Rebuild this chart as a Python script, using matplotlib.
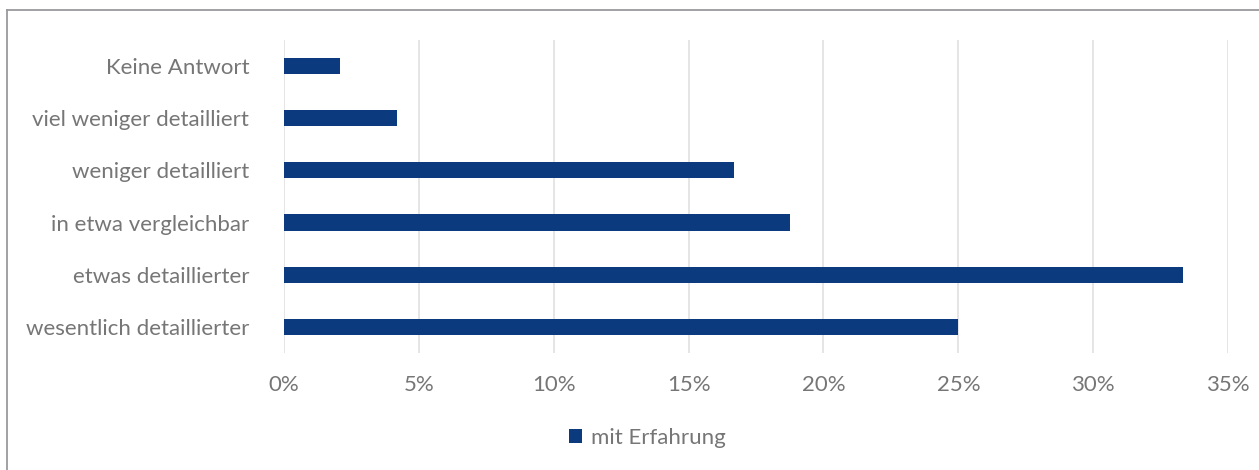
import matplotlib.pyplot as plt
from matplotlib.ticker import PercentFormatter
from matplotlib.lines import Line2D

plt.rcParams['font.family'] = ['Lato', 'DejaVu Sans']

categories = ['wesentlich detaillierter', 'etwas detaillierter', 'in etwa vergleichbar',
              'weniger detailliert', 'viel weniger detailliert', 'Keine Antwort']
share = [25.0, 33.33, 18.75, 16.67, 4.17, 2.08]
series_name = 'mit Erfahrung'
xticks = [0, 5, 10, 15, 20, 25, 30, 35]

bar_color = '#0B3A7E'
text_color = '#767676'

fig = plt.figure(figsize=(12.59, 4.70), dpi=100)
ax = fig.add_axes([0.2256, 0.249, 0.7498, 0.666])

ypos = range(len(categories))
ax.barh(ypos, [v / 100 for v in share], height=0.31, color=bar_color,
        label=series_name, zorder=3)

ax.set_xlim(0, 0.35)
ax.set_ylim(-0.5, len(categories) - 0.5)
ax.set_xticks([t / 100 for t in xticks])
ax.xaxis.set_major_formatter(PercentFormatter(1.0, decimals=0))
ax.set_yticks(list(ypos))
ax.set_yticklabels(categories)
ax.grid(axis='x', color='#E0E0E0', linewidth=1.2, zorder=0)
for s in ax.spines.values():
    s.set_visible(False)
ax.tick_params(axis='both', length=0, labelsize=16, labelcolor=text_color)
ax.tick_params(axis='y', pad=25)
ax.tick_params(axis='x', pad=16)

# legend below the plot area, centred on the whole chart
fig.legend(*ax.get_legend_handles_labels(), loc='center',
           bbox_to_anchor=(0.514, 0.068), frameon=False,
           fontsize=16, labelcolor=text_color, handlelength=0.6, handleheight=0.6,
           handletextpad=0.4)

# outer frame (top and left edges)
fig.add_artist(Line2D([7 / 1259, 7 / 1259], [0, 1 - 10 / 470], transform=fig.transFigure,
                      color='#9A9A9E', linewidth=1.3))
fig.add_artist(Line2D([7 / 1259, 1], [1 - 10 / 470, 1 - 10 / 470], transform=fig.transFigure,
                      color='#9A9A9E', linewidth=1.3))

fig.savefig('out.png', dpi=100)
